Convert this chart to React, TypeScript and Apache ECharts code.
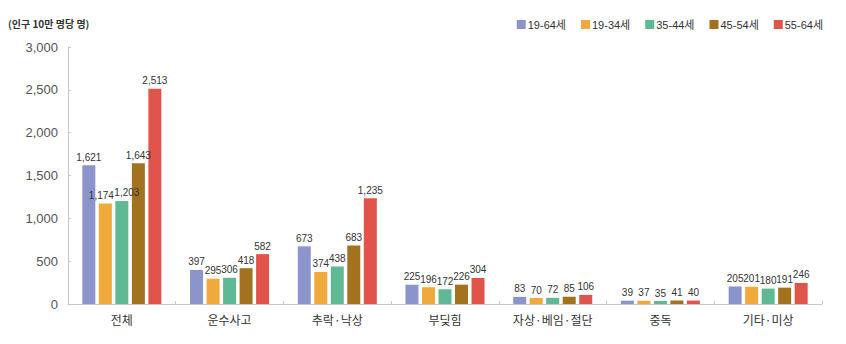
import React, { useEffect, useRef } from "react";
import * as echarts from "echarts";

const categories = ["전체", "운수사고", "추락·낙상", "부딪힘", "자상·베임·절단", "중독", "기타·미상"];
const seriesNames = ["19-64세", "19-34세", "35-44세", "45-54세", "55-64세"];
const s1964 = [1621, 397, 673, 225, 83, 39, 205];
const s1934 = [1174, 295, 374, 196, 70, 37, 201];
const s3544 = [1203, 306, 438, 172, 72, 35, 180];
const s4554 = [1643, 418, 683, 226, 85, 41, 191];
const s5564 = [2513, 582, 1235, 304, 106, 40, 246];
const colors = ["#8b95cc", "#f0aa3c", "#5fb995", "#a2721f", "#e0544b"];
const unitLabel = "(인구 10만 명당 명)";

export default function App() {
  const ref = useRef<HTMLDivElement>(null);
  useEffect(() => {
    if (!ref.current) return;
    const chart = echarts.init(ref.current, undefined, { renderer: "svg" });
    const data = [s1964, s1934, s3544, s4554, s5564];
    const labelFont = "'Liberation Sans', Arial, sans-serif";
    chart.setOption({
      animation: false,
      textStyle: { fontFamily: "'Noto Sans CJK KR', 'Noto Sans', sans-serif" },
      graphic: [
        {
          type: "text",
          left: 8,
          top: 18,
          style: { text: unitLabel, fontSize: 10, fontWeight: "bold", fill: "#333", fontFamily: "'Noto Sans CJK KR', sans-serif" },
        },
      ],
      legend: {
        top: 14,
        right: 18,
        itemWidth: 9,
        itemHeight: 9,
        itemGap: 15,
        icon: "rect",
        textStyle: {
          fontSize: 11,
          color: "#333",
          padding: [0, 0, 0, -3],
          fontFamily: "'Liberation Sans', 'Noto Sans CJK KR', sans-serif",
        },
        data: seriesNames,
      },
      grid: { left: 68, right: 24, top: 47, bottom: 40 },
      xAxis: {
        type: "category",
        data: categories,
        axisLine: { lineStyle: { color: "#c8c8c8" } },
        axisTick: { show: true, length: 3, inside: true, lineStyle: { color: "#c8c8c8" } },
        axisLabel: { fontSize: 12, color: "#333", margin: 9 },
      },
      yAxis: {
        type: "value",
        min: 0,
        max: 3000,
        interval: 500,
        axisLine: { show: true, lineStyle: { color: "#c8c8c8" } },
        axisTick: { show: true, length: 3, inside: true, lineStyle: { color: "#c8c8c8" } },
        splitLine: { show: false },
        axisLabel: {
          fontSize: 13,
          color: "#555",
          margin: 10,
          fontFamily: labelFont,
          formatter: (v: number) => v.toLocaleString("en-US"),
        },
      },
      series: seriesNames.map((name, i) => ({
        name,
        type: "bar",
        data: data[i].map((v, j) => {
          if (j === 0 && i === 1) return { value: v, label: { offset: [-4, 0] } };
          if (j === 0 && i === 2) return { value: v, label: { offset: [5, 0] } };
          return v;
        }),
        barWidth: 13,
        barGap: "27%",
        itemStyle: { color: colors[i] },
        label: {
          show: true,
          position: "top",
          distance: 3,
          fontSize: 10,
          color: "#333",
          fontFamily: labelFont,
          formatter: (p: any) => Number(p.value).toLocaleString("en-US"),
        },
      })),
    });
    return () => chart.dispose();
  }, []);
  return <div ref={ref} style={{ position: "absolute", left: 0, top: 0, width: 846, height: 344 }} />;
}
